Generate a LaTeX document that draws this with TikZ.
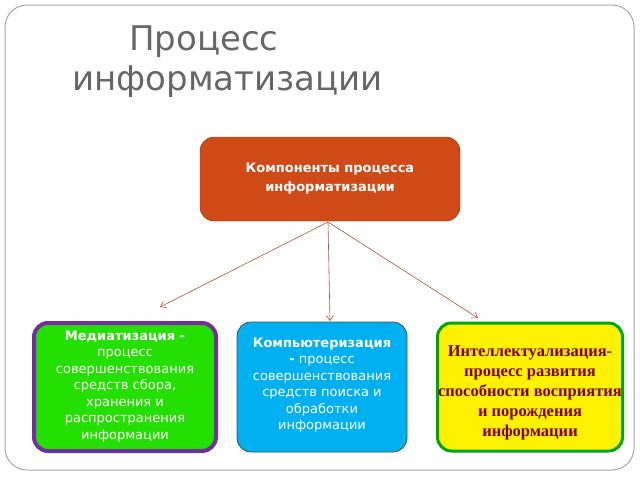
\documentclass[tikz,border=0pt]{standalone}
\usepackage{fontspec}
\setmainfont{DejaVu Sans}
\newfontfamily\serifb{Liberation Serif}
\usetikzlibrary{arrows.meta}
\definecolor{orng}{HTML}{D04A18}
\definecolor{grn}{HTML}{24E000}
\definecolor{purp}{HTML}{7030A0}
\definecolor{blu}{HTML}{00B0F0}
\definecolor{lnk}{HTML}{B0503A}
\begin{document}
\begin{tikzpicture}[x=1pt,y=-1pt,
  box/.style={draw, rounded corners=14pt, align=center, text=white, font=\fontsize{13}{16}\selectfont, inner sep=0pt},
  conn/.style={draw=lnk, line width=0.6pt, -{Straight Barb[length=5pt,width=7pt]}}]
\useasboundingbox (0,0) rectangle (640,480);
\draw[gray!70, line width=1pt, rounded corners=22pt] (5,5) rectangle (634,470);
\node[text=black!60, font=\fontsize{34}{40}\selectfont, align=left, anchor=north west, inner sep=0pt] (title) at (72,26) {\hspace*{57pt}Процесс\\информатизации};
\node[box, fill=orng, draw=orng!60!black, minimum width=260pt, minimum height=84pt, font=\bfseries\fontsize{13}{19}\selectfont] (top) at (330,179) {Компоненты процесса\\ информатизации};
\node[box, fill=grn, draw=purp, line width=4pt, minimum width=182pt, minimum height=128pt, anchor=north] (med) at (125,321) {};
\node[align=center, text=white, font=\fontsize{13}{16.5}\selectfont, anchor=north] (medt) at (125,327) {\textbf{Медиатизация -}\\процесс\\совершенствования\\средств сбора,\\хранения и\\распространения\\информации};
\node[box, fill=blu, draw=gray!60!black, line width=0.8pt, minimum width=170pt, minimum height=130pt] (comp) at (322,387) {};
\node[align=center, text=white, font=\fontsize{13}{16.5}\selectfont, anchor=north] (compt) at (322,334) {\textbf{Компьютеризация}\\\textbf{-} процесс\\совершенствования\\средств поиска и\\обработки\\информации};
\node[box, fill=yellow, draw=green!65!black, line width=3pt, minimum width=185pt, minimum height=128pt] (intl) at (530,387) {};
\node[align=center, text=red!50!black, font=\serifb\bfseries\fontsize{16.5}{20}\selectfont, anchor=north] (intlt) at (530,342) {Интеллектуализация-\\процесс развития\\способности восприятия\\и порождения\\информации};
\coordinate (o) at (328,222);
\coordinate (e1) at (160,307);
\coordinate (e2) at (330,321);
\coordinate (e3) at (478,318);
\draw[conn] (o) -- (e1);
\draw[conn] (o) -- (e2);
\draw[conn] (o) -- (e3);
\end{tikzpicture}
\end{document}
